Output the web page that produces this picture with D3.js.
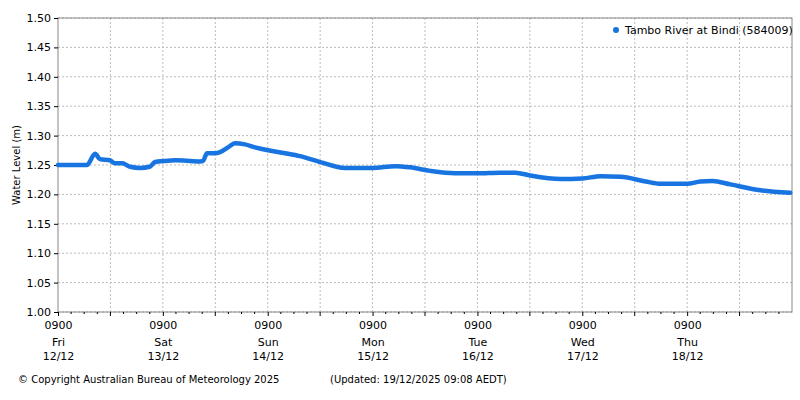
<!DOCTYPE html><html><head><script src="https://cdn.jsdelivr.net/npm/d3@7"></script>
<style>body{margin:0;background:#fff}text{font-family:"DejaVu Sans",sans-serif}</style></head><body>
<svg id="c" width="800" height="400"></svg>
<script>
const hours=[0,6.6,8.5,9.6,11.9,13,14.7,16.5,18.8,21,22.2,24.5,26.8,30.2,32.5,33.2,34.1,36,37.1,38.9,40.5,42.8,45.1,48.1,52,55.4,60,65.7,71.9,77.2,80.6,85.2,90.9,96,101.2,104.7,108.1,115,120,124.2,128.8,134.5,137.9,144,147,149.8,153.9,160.8,167.6];
const levels=[1.25,1.25,1.269,1.26,1.258,1.253,1.253,1.247,1.245,1.247,1.255,1.257,1.258,1.257,1.256,1.257,1.27,1.27,1.272,1.28,1.287,1.285,1.28,1.275,1.27,1.265,1.255,1.245,1.245,1.248,1.246,1.24,1.236,1.236,1.237,1.237,1.232,1.226,1.227,1.231,1.23,1.222,1.218,1.218,1.222,1.223,1.217,1.207,1.203];
const yTicks=d3.range(1.0,1.501,0.05);
const dayLabels=[["Fri","12/12"],["Sat","13/12"],["Sun","14/12"],["Mon","15/12"],["Tue","16/12"],["Wed","17/12"],["Thu","18/12"]];
const svg=d3.select("#c");
const L=58,R=792,T=18,B=312;
const x=d3.scaleLinear().domain([0,168]).range([L,R]);
const y=d3.scaleLinear().domain([1.0,1.5]).range([B,T]);
const g=svg.append("g");
yTicks.forEach(v=>g.append("line").attr("x1",L).attr("x2",R).attr("y1",y(v)).attr("y2",y(v)).attr("stroke","#bbb").attr("stroke-dasharray","2,2"));
d3.range(12,168,12).forEach(h=>g.append("line").attr("x1",x(h)).attr("x2",x(h)).attr("y1",T).attr("y2",B).attr("stroke","#bbb").attr("stroke-dasharray","2,2"));
svg.append("rect").attr("x",L).attr("y",T).attr("width",R-L).attr("height",B-T).attr("fill","none").attr("stroke","#888");
svg.append("g").attr("transform",`translate(${L},0)`).call(d3.axisLeft(y).tickValues(yTicks).tickFormat(d3.format(".2f")).tickSize(4))
 .call(a=>{a.select(".domain").remove();a.selectAll("text").attr("font-size",11).attr("fill","#000");});
const ax=svg.append("g").attr("transform",`translate(0,${B})`).call(d3.axisBottom(x).tickValues(d3.range(0,168,24)).tickFormat(()=> "0900").tickSize(4));
ax.select(".domain").remove();ax.selectAll("text").attr("font-size",11).attr("fill","#000").attr("dy","0.9em");
ax.selectAll(".tick").each(function(d,i){const t=d3.select(this);
 t.append("text").attr("y",24).attr("dy","0.9em").attr("text-anchor","middle").attr("font-size",11).attr("fill","#000").text(dayLabels[i][0]);
 t.append("text").attr("y",38).attr("dy","0.9em").attr("text-anchor","middle").attr("font-size",11).attr("fill","#000").text(dayLabels[i][1]);});
d3.range(3,168,3).forEach(h=>{if(h%24)svg.append("line").attr("x1",x(h)).attr("x2",x(h)).attr("y1",B).attr("y2",B+(h%12?2:4)).attr("stroke","#000");});
const data=hours.map((h,i)=>[h,levels[i]]);
svg.append("path").datum(data).attr("d",d3.line().x(d=>x(d[0])).y(d=>y(d[1])).curve(d3.curveMonotoneX)).attr("fill","none").attr("stroke","#1874e0").attr("stroke-width",4.5).attr("stroke-linecap","round");
svg.append("text").attr("transform",`translate(20,${(T+B)/2}) rotate(-90)`).attr("text-anchor","middle").attr("font-size",10).attr("font-family","DejaVu Sans Mono").text("Water Level (m)");
svg.append("circle").attr("cx",616).attr("cy",30).attr("r",3).attr("fill","#1874e0");
svg.append("text").attr("x",625).attr("y",34).attr("font-size",11).text("Tambo River at Bindi (584009)");
svg.append("text").attr("x",18).attr("y",383).attr("font-size",10).text("© Copyright Australian Bureau of Meteorology 2025");
svg.append("text").attr("x",330).attr("y",383).attr("font-size",10).text("(Updated: 19/12/2025 09:08 AEDT)");
</script></body></html>
